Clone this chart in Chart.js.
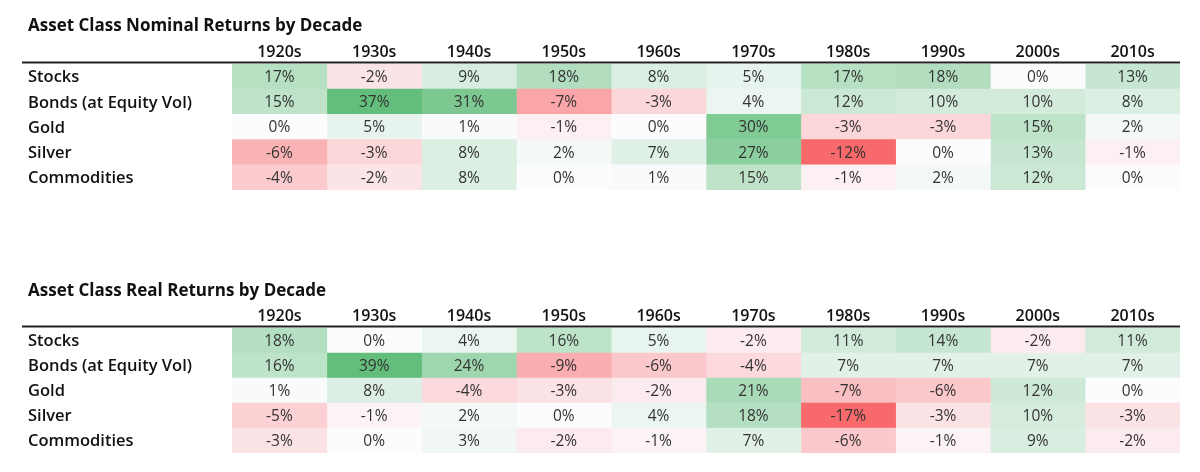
<!DOCTYPE html>
<html>
<head>
<meta charset="utf-8">
<script src="https://cdn.jsdelivr.net/npm/chart.js@4.4.1/dist/chart.umd.min.js"></script>
<style>
  html, body { margin: 0; padding: 0; background: #fff; }
  canvas { display: block; }
</style>
</head>
<body>
<canvas id="nominal" width="1200" height="236"></canvas>
<canvas id="real" width="1200" height="236"></canvas>
<script>
var decades = ['1920s', '1930s', '1940s', '1950s', '1960s', '1970s', '1980s', '1990s', '2000s', '2010s'];
var assets  = ['Stocks', 'Bonds (at Equity Vol)', 'Gold', 'Silver', 'Commodities'];

// nominal returns, % per year
var nominalStocks      = [17, -2,  9, 18,  8,  5,  17, 18,  0, 13];
var nominalBonds       = [15, 37, 31, -7, -3,  4,  12, 10, 10,  8];
var nominalGold        = [ 0,  5,  1, -1,  0, 30,  -3, -3, 15,  2];
var nominalSilver      = [-6, -3,  8,  2,  7, 27, -12,  0, 13, -1];
var nominalCommodities = [-4, -2,  8,  0,  1, 15,  -1,  2, 12,  0];

// real returns, % per year
var realStocks      = [18,  0,  4, 16,  5, -2,  11, 14, -2, 11];
var realBonds       = [16, 39, 24, -9, -6, -4,   7,  7,  7,  7];
var realGold        = [ 1,  8, -4, -3, -2, 21,  -7, -6, 12,  0];
var realSilver      = [-5, -1,  2,  0,  4, 18, -17, -3, 10, -3];
var realCommodities = [-3,  0,  3, -2, -1,  7,  -6, -1,  9, -2];

var FONT = "'Open Sans', 'DejaVu Sans', sans-serif";

// excel style red - white - green scale, midpoint at 0
function cellColor(v, min, max) {
  var lo = [248, 105, 107], mid = [252, 252, 255], hi = [99, 190, 123];
  var t, b;
  if (v >= 0) { t = max ? v / max : 0; b = hi; }
  else { t = v / min; b = lo; }
  var c = mid.map(function(m, k) { return Math.round(m + (b[k] - m) * t); });
  return 'rgb(' + c.join(',') + ')';
}

var cellLabels = {
  id: 'cellLabels',
  afterDatasetsDraw: function(chart) {
    var ctx = chart.ctx, x = chart.scales.x, y = chart.scales.y, area = chart.chartArea;
    ctx.save();
    ctx.font = '15.5px ' + FONT;
    ctx.fillStyle = '#333';
    ctx.textAlign = 'center';
    ctx.textBaseline = 'middle';
    chart.data.datasets.forEach(function(ds, j) {
      ds.values.forEach(function(v, i) {
        ctx.fillText(v + '%', x.getPixelForValue(j + 0.5), y.getPixelForValue(i) + 1);
      });
    });
    // rule under the header row
    ctx.strokeStyle = '#222';
    ctx.lineWidth = 2;
    ctx.beginPath();
    ctx.moveTo(22, area.top - 1.5);
    ctx.lineTo(area.right, area.top - 1.5);
    ctx.stroke();
    ctx.restore();
  }
};

function makeTable(id, title, rows, pad) {
  var all = [].concat.apply([], rows);
  var min = Math.min.apply(null, all), max = Math.max.apply(null, all);

  var datasets = decades.map(function(d, j) {
    return {
      label: d,
      data: rows.map(function() { return [j, j + 1]; }),
      values: rows.map(function(r) { return r[j]; }),
      backgroundColor: rows.map(function(r) { return cellColor(r[j], min, max); }),
      grouped: false,
      barPercentage: 1,
      categoryPercentage: 1,
      borderWidth: 0
    };
  });

  new Chart(document.getElementById(id), {
    type: 'bar',
    data: { labels: assets, datasets: datasets },
    options: {
      indexAxis: 'y',
      responsive: false,
      animation: false,
      layout: { padding: { left: 28, right: 20, top: 0, bottom: pad.bottom } },
      scales: {
        x: {
          type: 'linear', position: 'top', min: 0, max: 10,
          grid: { display: false, drawTicks: false },
          border: { display: false },
          afterBuildTicks: function(s) {
            s.ticks = decades.map(function(d, i) { return { value: i + 0.5 }; });
          },
          afterFit: function(s) { s.height = pad.axis; },
          ticks: {
            autoSkip: false, maxRotation: 0, padding: 2, color: '#111',
            font: { family: FONT, size: 16, weight: '600' },
            callback: function(v, i) { return decades[i]; }
          }
        },
        y: {
          grid: { display: false, drawTicks: false },
          border: { display: false },
          afterFit: function(s) { s.width = 204; },
          ticks: {
            crossAlign: 'far', padding: 0, color: '#111', labelOffset: 1,
            font: { family: FONT, size: 16.5, weight: '600' }
          }
        }
      },
      plugins: {
        legend: { display: false },
        tooltip: { enabled: false },
        title: {
          display: true, text: title, align: 'start', color: '#111',
          font: { family: FONT, size: 17, weight: 'bold' },
          padding: { top: pad.title, bottom: 4 }
        }
      }
    },
    plugins: [cellLabels]
  });
}

makeTable('nominal', 'Asset Class Nominal Returns by Decade',
  [nominalStocks, nominalBonds, nominalGold, nominalSilver, nominalCommodities],
  { title: 16, axis: 23.6, bottom: 46 });

makeTable('real', 'Asset Class Real Returns by Decade',
  [realStocks, realBonds, realGold, realSilver, realCommodities],
  { title: 45, axis: 22.6, bottom: 19 });
</script>
</body>
</html>
